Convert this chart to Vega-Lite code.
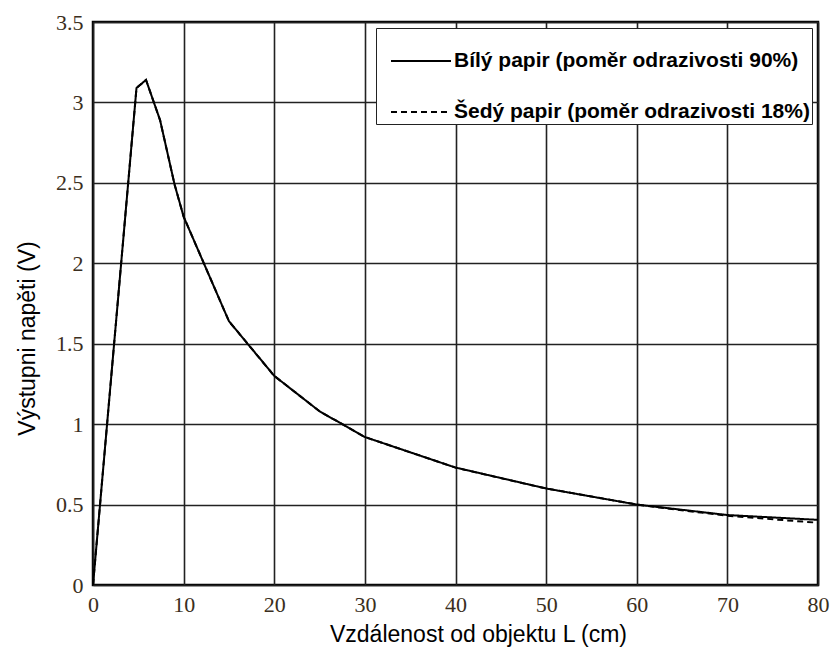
{
  "$schema": "https://vega.github.io/schema/vega-lite/v6.json",
  "width": 725,
  "height": 563,
  "autosize": "none",
  "padding": {"left": 93, "top": 22, "right": 16, "bottom": 70},
  "background": "white",
  "config": {
    "view": {"stroke": "black", "strokeWidth": 2.5},
    "axis": {
      "grid": true,
      "gridColor": "#222",
      "gridWidth": 1.6,
      "gridOpacity": 1,
      "domain": false,
      "ticks": false,
      "labelFlush": false,
      "labelFont": "Times New Roman",
      "labelFontSize": 22,
      "labelColor": "#3a2e20",
      "titleFont": "Liberation Sans",
      "titleFontSize": 23,
      "titleFontWeight": "normal",
      "titleColor": "black"
    }
  },
  "data": {
    "values": [
      {"L": 0, "U": 0, "s": "Bílý papir (poměr odrazivosti 90%)"},
      {"L": 4.8, "U": 3.09, "s": "Bílý papir (poměr odrazivosti 90%)"},
      {"L": 5.85, "U": 3.14, "s": "Bílý papir (poměr odrazivosti 90%)"},
      {"L": 7.4, "U": 2.89, "s": "Bílý papir (poměr odrazivosti 90%)"},
      {"L": 9, "U": 2.49, "s": "Bílý papir (poměr odrazivosti 90%)"},
      {"L": 10, "U": 2.29, "s": "Bílý papir (poměr odrazivosti 90%)"},
      {"L": 15, "U": 1.64, "s": "Bílý papir (poměr odrazivosti 90%)"},
      {"L": 20, "U": 1.30, "s": "Bílý papir (poměr odrazivosti 90%)"},
      {"L": 25, "U": 1.08, "s": "Bílý papir (poměr odrazivosti 90%)"},
      {"L": 30, "U": 0.92, "s": "Bílý papir (poměr odrazivosti 90%)"},
      {"L": 40, "U": 0.73, "s": "Bílý papir (poměr odrazivosti 90%)"},
      {"L": 50, "U": 0.60, "s": "Bílý papir (poměr odrazivosti 90%)"},
      {"L": 60, "U": 0.50, "s": "Bílý papir (poměr odrazivosti 90%)"},
      {"L": 70, "U": 0.435, "s": "Bílý papir (poměr odrazivosti 90%)"},
      {"L": 80, "U": 0.405, "s": "Bílý papir (poměr odrazivosti 90%)"},
      {"L": 0, "U": 0, "s": "Šedý papir (poměr odrazivosti 18%)"},
      {"L": 4.8, "U": 3.09, "s": "Šedý papir (poměr odrazivosti 18%)"},
      {"L": 5.85, "U": 3.14, "s": "Šedý papir (poměr odrazivosti 18%)"},
      {"L": 7.4, "U": 2.89, "s": "Šedý papir (poměr odrazivosti 18%)"},
      {"L": 9, "U": 2.49, "s": "Šedý papir (poměr odrazivosti 18%)"},
      {"L": 10, "U": 2.29, "s": "Šedý papir (poměr odrazivosti 18%)"},
      {"L": 15, "U": 1.64, "s": "Šedý papir (poměr odrazivosti 18%)"},
      {"L": 20, "U": 1.30, "s": "Šedý papir (poměr odrazivosti 18%)"},
      {"L": 25, "U": 1.08, "s": "Šedý papir (poměr odrazivosti 18%)"},
      {"L": 30, "U": 0.92, "s": "Šedý papir (poměr odrazivosti 18%)"},
      {"L": 40, "U": 0.73, "s": "Šedý papir (poměr odrazivosti 18%)"},
      {"L": 50, "U": 0.60, "s": "Šedý papir (poměr odrazivosti 18%)"},
      {"L": 60, "U": 0.50, "s": "Šedý papir (poměr odrazivosti 18%)"},
      {"L": 70, "U": 0.43, "s": "Šedý papir (poměr odrazivosti 18%)"},
      {"L": 80, "U": 0.387, "s": "Šedý papir (poměr odrazivosti 18%)"}
    ]
  },
  "mark": {"type": "line", "color": "black", "strokeWidth": 2},
  "encoding": {
    "x": {
      "field": "L",
      "type": "quantitative",
      "scale": {"domain": [0, 80], "nice": false},
      "axis": {"values": [0, 10, 20, 30, 40, 50, 60, 70, 80], "title": "Vzdálenost od objektu L (cm)", "labelPadding": 9, "titlePadding": 8, "titleX": 385}
    },
    "y": {
      "field": "U",
      "type": "quantitative",
      "scale": {"domain": [0, 3.5], "nice": false},
      "axis": {"values": [0, 0.5, 1, 1.5, 2, 2.5, 3, 3.5], "format": "~g", "title": "Výstupni napěti (V)", "labelPadding": 10, "titlePadding": 16, "titleY": 316}
    },
    "strokeDash": {
      "field": "s",
      "type": "nominal",
      "scale": {"range": [[1, 0], [6, 4]]},
      "legend": {
        "title": null,
        "orient": "top-right",
        "offset": 6,
        "fillColor": "white",
        "strokeColor": "#222",
        "padding": 2,
        "symbolType": "stroke",
        "symbolSize": 3600,
        "symbolOffset": 12,
        "symbolStrokeWidth": 2,
        "symbolStrokeColor": "black",
        "rowPadding": 10,
        "labelFont": "Liberation Sans",
        "labelFontSize": 21,
        "labelFontWeight": "bold",
        "labelColor": "black",
        "labelOffset": 2,
        "labelLimit": 400
      }
    }
  }
}
